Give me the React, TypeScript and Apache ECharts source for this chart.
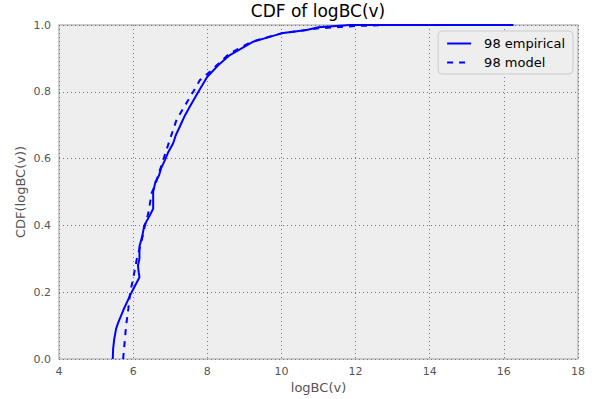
import React, { useEffect, useRef } from "react";
import * as echarts from "echarts";

const empiricalX = [5.45, 5.46, 5.49, 5.54, 5.6, 5.75, 5.96, 6.1, 6.17, 6.15, 6.13, 6.17, 6.17, 6.25, 6.3, 6.45, 6.54, 6.54, 6.6, 6.7, 6.75, 6.86, 6.95, 7.08, 7.15, 7.26, 7.4, 7.55, 7.76, 8.0, 8.3, 8.61, 9.24, 10.0, 10.68, 11.0, 11.85, 16.26];
const empiricalY = [0.0, 0.03, 0.06, 0.09, 0.11, 0.15, 0.2, 0.23, 0.245, 0.26, 0.28, 0.3, 0.337, 0.37, 0.4, 0.43, 0.45, 0.5, 0.53, 0.55, 0.57, 0.596, 0.62, 0.646, 0.67, 0.696, 0.73, 0.76, 0.8, 0.845, 0.88, 0.91, 0.95, 0.975, 0.985, 0.993, 1.0, 1.0];
const modelX = [5.73, 5.77, 5.81, 5.87, 5.92, 5.99, 6.1, 6.22, 6.32, 6.41, 6.5, 6.59, 6.81, 7.0, 7.17, 7.35, 7.62, 7.8, 8.07, 8.6, 9.2, 10.0, 11.0, 12.0, 12.9];
const modelY = [0.0, 0.05, 0.1, 0.15, 0.2, 0.235, 0.3, 0.35, 0.4, 0.437, 0.497, 0.52, 0.596, 0.66, 0.716, 0.75, 0.8, 0.835, 0.86, 0.915, 0.95, 0.975, 0.99, 0.997, 1.0];
const seriesNames = ["98 empirical", "98 model"];

export default function App() {
  const ref = useRef<HTMLDivElement>(null);
  useEffect(() => {
    if (!ref.current) return;
    const chart = echarts.init(ref.current, undefined, { renderer: "svg" });
    const font = "DejaVu Sans";
    chart.setOption({
      animation: false,
      backgroundColor: "#ffffff",
      textStyle: { fontFamily: font },
      title: {
        text: "CDF of logBC(v)",
        left: 318,
        top: 2,
        padding: 0,
        textAlign: "center",
        textStyle: { fontFamily: font, fontSize: 17, fontWeight: "normal", color: "#000" },
      },
      grid: {
        left: 59,
        right: 17,
        top: 25,
        bottom: 40,
        show: true,
        backgroundColor: "#eeeeee",
        borderColor: "#bcbcbc",
        borderWidth: 1.5,
      },
      legend: {
        right: 22,
        top: 31,
        orient: "vertical",
        backgroundColor: "#eeeeee",
        borderColor: "#cccccc",
        borderWidth: 1,
        borderRadius: 4,
        padding: [6, 8, 5, 8],
        itemGap: 6,
        itemWidth: 24,
        itemHeight: 10,
        itemStyle: { opacity: 0 },
        textStyle: { fontFamily: font, fontSize: 13, color: "#000", padding: [0, 0, 0, 8] },
        data: seriesNames,
      },
      xAxis: {
        type: "value",
        min: 4,
        max: 18,
        interval: 2,
        name: "logBC(v)",
        nameLocation: "middle",
        nameGap: 22,
        nameMoveOverlap: false,
        nameTextStyle: { fontFamily: font, fontSize: 13, color: "#555555" },
        axisLine: { show: false },
        axisTick: { show: false },
        axisLabel: { fontFamily: font, fontSize: 11, color: "#555555", margin: 7 },
        splitLine: { show: true, lineStyle: { color: "#777777", type: [1, 3], width: 1 } },
      },
      yAxis: {
        type: "value",
        min: 0,
        max: 1,
        interval: 0.2,
        name: "CDF(logBC(v))",
        nameLocation: "middle",
        nameGap: 32,
        nameMoveOverlap: false,
        nameTextStyle: { fontFamily: font, fontSize: 13, color: "#555555" },
        axisLine: { show: false },
        axisTick: { show: false },
        axisLabel: {
          fontFamily: font,
          fontSize: 11,
          color: "#555555",
          margin: 8,
          formatter: (v: number) => v.toFixed(1),
        },
        splitLine: { show: true, lineStyle: { color: "#777777", type: [1, 3], width: 1 } },
      },
      series: [
        {
          name: seriesNames[0],
          type: "line",
          data: empiricalX.map((x, i) => [x, empiricalY[i]]),
          showSymbol: false,
          symbol: "none",
          lineStyle: { color: "#0000ff", width: 2 },
          itemStyle: { color: "#0000ff" },
        },
        {
          name: seriesNames[1],
          type: "line",
          data: modelX.map((x, i) => [x, modelY[i]]),
          showSymbol: false,
          symbol: "none",
          lineStyle: { color: "#0000ff", width: 2, type: [6, 6] },
          itemStyle: { color: "#0000ff" },
        },
      ],
    });
    return () => chart.dispose();
  }, []);
  return <div ref={ref} style={{ width: 595, height: 399, position: "absolute", left: 0, top: 0 }} />;
}
